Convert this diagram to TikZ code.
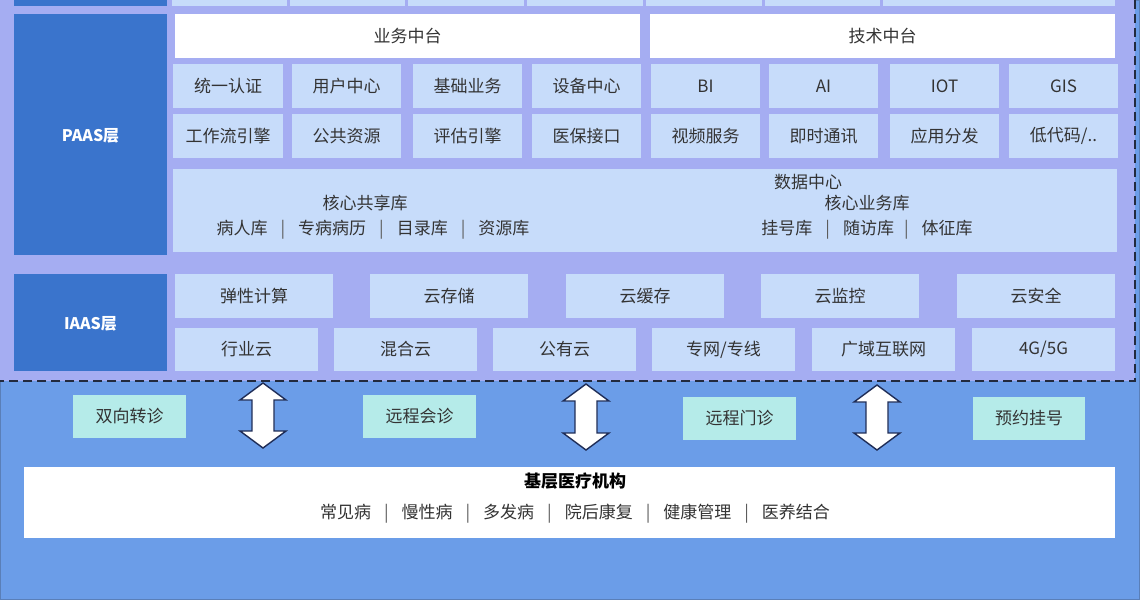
\documentclass[tikz,border=0pt]{standalone}
\usepackage{fontspec}
\setmainfont{Noto Sans CJK SC}
\definecolor{outerbg}{HTML}{6B9DE8}
\definecolor{panelc}{HTML}{A5ADF2}
\definecolor{darkc}{HTML}{3A74CC}
\definecolor{cellc}{HTML}{C7DCFA}
\definecolor{mintc}{HTML}{B5EBE9}
\definecolor{txt}{HTML}{333333}
\definecolor{navy}{HTML}{1F2D57}
\definecolor{dashc}{HTML}{222A3E}
\definecolor{edgec}{HTML}{5A7FB8}
\newcommand\fs{\fontsize{17pt}{20pt}\selectfont}
\newcommand\sepbar{\hspace{13pt}{\color{txt!80}|}\hspace{13pt}}
\newcommand\bx[7]{%
  \pgfmathsetmacro\cx{(#3+#5)/2}%
  \pgfmathsetmacro\cy{(#4+#6)/2}%
  \pgfmathsetmacro\ww{#5-#3}%
  \pgfmathsetmacro\hh{#6-#4}%
  \node[#1, minimum width=\ww pt, minimum height=\hh pt] (#2) at (\cx,\cy) {#7};}
\newcommand\dblarrow[3]{%
  \pgfmathsetmacro\shaftlen{#3-#2-34}%
  \draw[blockarrow] (#1,#2) -- ++(23,17) -- ++(-12,0) -- ++(0,\shaftlen) -- ++(12,0)
    -- ++(-23,17) -- ++(-23,-17) -- ++(12,0) -- ++(0,-\shaftlen) -- ++(-12,0) -- cycle;}
\begin{document}
\begin{tikzpicture}[x=1pt,y=-1pt,
  base/.style={inner sep=0pt, outer sep=0pt, text=txt, font=\fs},
  cell/.style={base, fill=cellc},
  whitebox/.style={base, fill=white},
  layerbox/.style={base, fill=darkc, text=white, font=\fontsize{16pt}{19pt}\selectfont\bfseries},
  mintbox/.style={base, fill=mintc},
  plain/.style={base},
  blockarrow/.style={fill=white, draw=navy, line width=1.4pt, line join=miter}]
\useasboundingbox (0,0) rectangle (1140,600);
% backgrounds
\fill[outerbg] (0,0) rectangle (1140,600);
\draw[edgec, line width=1pt] (0.5,0.5) rectangle (1139.5,599.5);
\fill[panelc] (0,0) rectangle (1135,381);
\draw[dashc, line width=2.2pt, dash pattern=on 9pt off 5pt] (1135,0) -- (1135,381) -- (0,381);
% upper cut-off layer
\fill[darkc] (14,0) rectangle (167,6);
\foreach \a/\b in {172/287,290/405,408/524,527/643,646/762,765/880,883/1115}
  \fill[cellc] (\a,0) rectangle (\b,6);
% layer labels
\bx{layerbox}{paas}{14}{16}{167}{255}{PAAS层}
\fill[darkc] (14,14) rectangle (167,17);
\bx{layerbox}{iaas}{14}{274}{167}{373}{IAAS层}
\fill[panelc] (14,371) rectangle (167,373.5);
% middle platforms
\bx{whitebox}{ywzt}{175}{14}{640}{58}{业务中台}
\bx{whitebox}{jszt}{650}{14}{1115}{58}{技术中台}
% PAAS row 1
\bx{cell}{r1a}{173}{64}{283}{108}{统一认证}
\bx{cell}{r1b}{292}{64}{401}{108}{用户中心}
\bx{cell}{r1c}{413}{64}{522}{108}{基础业务}
\bx{cell}{r1d}{532}{64}{641}{108}{设备中心}
\bx{cell}{r1e}{651}{64}{760}{108}{BI}
\bx{cell}{r1f}{769}{64}{878}{108}{AI}
\bx{cell}{r1g}{890}{64}{999}{108}{IOT}
\bx{cell}{r1h}{1009}{64}{1118}{108}{GIS}
% PAAS row 2
\bx{cell}{r2a}{173}{114}{283}{158}{工作流引擎}
\bx{cell}{r2b}{292}{114}{401}{158}{公共资源}
\bx{cell}{r2c}{413}{114}{522}{158}{评估引擎}
\bx{cell}{r2d}{532}{114}{641}{158}{医保接口}
\bx{cell}{r2e}{651}{114}{760}{158}{视频服务}
\bx{cell}{r2f}{769}{114}{878}{158}{即时通讯}
\bx{cell}{r2g}{890}{114}{999}{158}{应用分发}
\bx{cell}{r2h}{1009}{114}{1118}{158}{低代码/..}
% data center
\bx{cell}{dc}{173}{169}{1117}{252}{}
\node[plain] (dct) at (808,182) {数据中心};
\node[plain] (gxk) at (365,203.5) {核心共享库};
\node[plain] (gxl) at (373,229.5) {病人库\sepbar 专病病历\sepbar 目录库\sepbar 资源库};
\node[plain] (ywk) at (867,203.5) {核心业务库};
\node[plain] (ywl) at (867,229.5) {挂号库\sepbar 随访库\hspace{-3pt}\sepbar 体征库};
% IAAS row 1
\bx{cell}{i1a}{175}{274}{333}{318}{弹性计算}
\bx{cell}{i1b}{370}{274}{528}{318}{云存储}
\bx{cell}{i1c}{566}{274}{724}{318}{云缓存}
\bx{cell}{i1d}{761}{274}{919}{318}{云监控}
\bx{cell}{i1e}{957}{274}{1115}{318}{云安全}
% IAAS row 2
\bx{cell}{i2a}{175}{328}{318}{371}{行业云}
\bx{cell}{i2b}{334}{328}{477}{371}{混合云}
\bx{cell}{i2c}{493}{328}{636}{371}{公有云}
\bx{cell}{i2d}{652}{328}{795}{371}{专网/专线}
\bx{cell}{i2e}{812}{328}{955}{371}{广域互联网}
\bx{cell}{i2f}{972}{328}{1115}{371}{4G/5G}
% services
\bx{mintbox}{s1}{73}{395}{186}{438}{双向转诊}
\bx{mintbox}{s2}{363}{395}{476}{438}{远程会诊}
\bx{mintbox}{s3}{683}{397}{796}{440}{远程门诊}
\bx{mintbox}{s4}{973}{397}{1085}{440}{预约挂号}
% double arrows
\dblarrow{263}{383}{448}
\dblarrow{586}{384}{450}
\dblarrow{877}{385}{450}
% bottom
\bx{whitebox}{basebox}{24}{467}{1115}{538}{}
\node[plain, text=black, font=\fs\bfseries] (baset) at (575,481.5) {基层医疗机构};
\node[plain] (basel) at (575,514) {常见病\sepbar 慢性病\sepbar 多发病\sepbar 院后康复\sepbar 健康管理\sepbar 医养结合};
\end{tikzpicture}
\end{document}
